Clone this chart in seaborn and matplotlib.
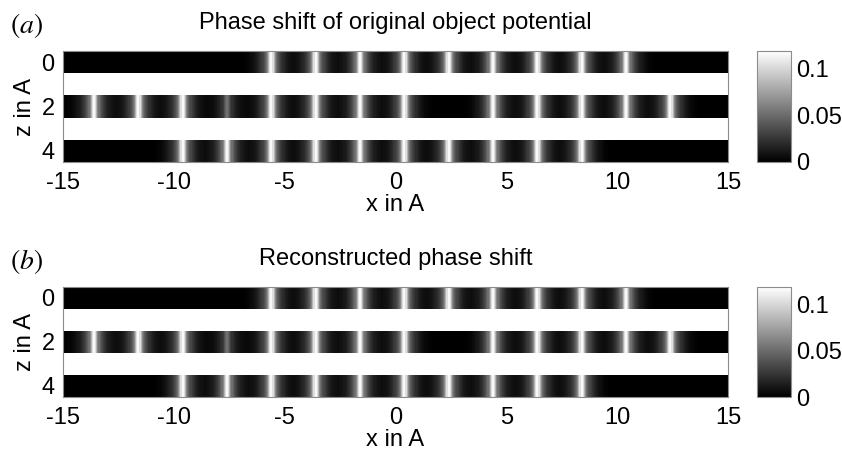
"""
Phase shift maps: original object potential vs. reconstruction.
"""

import numpy as np
import pandas as pd
import matplotlib
matplotlib.use('Agg')
import matplotlib.pyplot as plt
import seaborn as sns

# x grid (cell edges -15..15 A), z rows 0..4 (rows 1 and 3 empty)
x_min, x_max, dx = -15.0, 15.0, 0.05
z_rows = [0, 1, 2, 3, 4]
x_ticks = [-15, -10, -5, 0, 5, 10, 15]
z_ticks = [0, 2, 4]
cbar_ticks = [0, 0.05, 0.1]
cbar_labels = ['0', '0.05', '0.1']
vmax = 0.119

# atom column positions (x in A) per occupied row
peaks_z0 = [-5.6, -3.6, -1.6, 0.4, 2.4, 4.4, 6.4, 8.4, 10.4]
amps_z0 = [1, 1, 1, 1, 1, 1, 1, 1, 1]
peaks_z2 = [-13.6, -11.6, -9.6, -7.6, -5.6, -3.6, -1.6, 0.4, 4.4, 6.4, 8.4, 10.4, 12.4]
amps_z2 = [1, 1, 1, 0.45, 1, 1, 1, 1, 1, 1, 1, 1, 1]
peaks_z4 = [-9.6, -7.6, -5.6, -3.6, -1.6, 0.4, 2.4, 4.4, 6.4, 8.4]
amps_z4 = [1, 1, 1, 1, 1, 1, 1, 1, 1, 1]

# profile of a single peak: distance from centre (A) -> phase shift
profile_d = [0, 0.05, 0.1, 0.15, 0.2, 0.3, 0.45, 0.6, 0.8, 1.0, 1.3]
profile_v = [0.119, 0.112, 0.095, 0.072, 0.056, 0.04, 0.026, 0.016, 0.008, 0.003, 0.0]

panels = [('(a)', 'Phase shift of original object potential'),
          ('(b)', 'Reconstructed phase shift')]


def build_map():
    """Phase map as a z-by-x table, empty rows left as NaN."""
    x = np.arange(x_min + dx / 2, x_max, dx)
    rows = {0: (peaks_z0, amps_z0), 2: (peaks_z2, amps_z2), 4: (peaks_z4, amps_z4)}
    data = np.full((len(z_rows), len(x)), np.nan)
    for z, (pos, amp) in rows.items():
        line = np.zeros_like(x)
        for p, a in zip(pos, amp):
            line += a * np.interp(np.abs(x - p), profile_d, profile_v, right=0.0)
        data[z] = np.clip(line, 0, vmax)
    return pd.DataFrame(data, index=z_rows, columns=np.round(x, 3))


W, H = 842, 453
fig = plt.figure(figsize=(W / 100, H / 100), dpi=100)
plt.rcParams['font.family'] = ['Liberation Sans', 'DejaVu Sans']
plt.rcParams['mathtext.fontset'] = 'stix'

# pixel boxes (left, top, right, bottom)
ax_boxes = [(63, 51, 728, 162), (63, 287, 728, 397)]
cb_boxes = [(757, 51, 791, 162), (757, 287, 791, 397)]


def to_fig(box):
    l, t, r, b = box
    return [l / W, 1 - b / H, (r - l) / W, (b - t) / H]


df = build_map()
fs = 17
for (tag, title), abox, cbox in zip(panels, ax_boxes, cb_boxes):
    ax = fig.add_axes(to_fig(abox))
    cax = fig.add_axes(to_fig(cbox))
    sns.heatmap(df, ax=ax, cbar_ax=cax, cmap='gray', vmin=0, vmax=vmax,
                xticklabels=False, yticklabels=False)
    ax.set_xticks([(t - x_min) / dx for t in x_ticks])
    ax.set_xticklabels([str(t) for t in x_ticks])
    ax.set_yticks([z + 0.5 for z in z_ticks])
    ax.set_yticklabels([str(z) for z in z_ticks], rotation=0)
    ax.tick_params(axis='x', length=0, pad=7, labelsize=fs)
    ax.tick_params(axis='y', length=0, pad=6, labelsize=fs)
    for s in ax.spines.values():
        s.set_visible(True)
        s.set_color('#8c8c8c')
        s.set_linewidth(0.8)
    ax.set_xlabel('x in A', fontsize=fs, labelpad=0)
    ax.set_ylabel('z in A', fontsize=fs, labelpad=4)
    ax.set_title(title, fontsize=fs, pad=16)

    cbar = ax.collections[0].colorbar
    cbar.set_ticks(cbar_ticks)
    cbar.set_ticklabels(cbar_labels)
    cbar.ax.tick_params(length=0, pad=4, labelsize=fs)
    cbar.outline.set_edgecolor('#8c8c8c')
    cbar.outline.set_linewidth(0.8)

    l, t, r, b = abox
    fig.text(10 / W, 1 - (t - 26) / H, r'$(%s)$' % tag[1], fontsize=20,
             ha='left', va='center')

fig.savefig('out.png', dpi=100)
